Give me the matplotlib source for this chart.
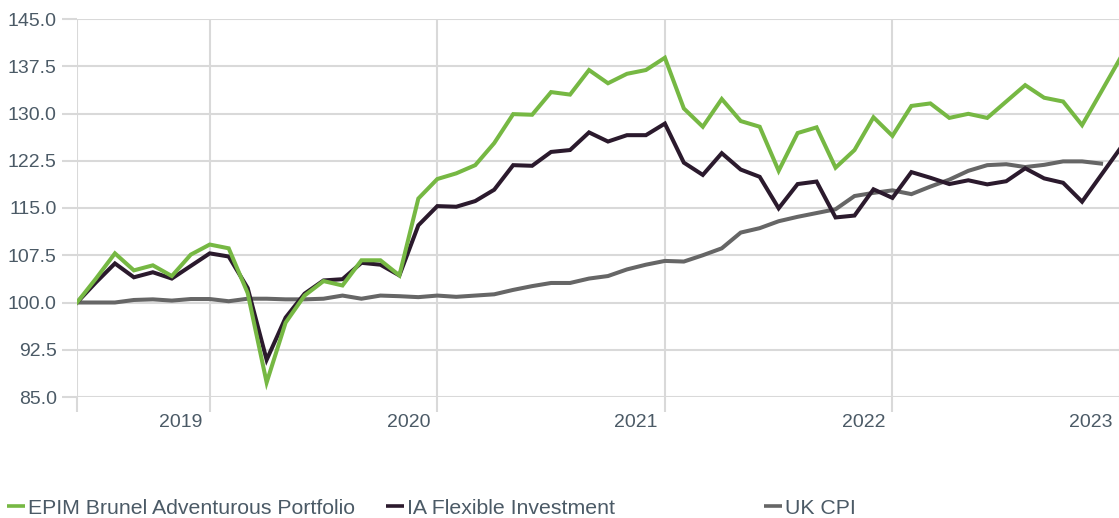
import numpy as np
import matplotlib
matplotlib.use('Agg')
import matplotlib.pyplot as plt
import matplotlib.transforms as mtransforms
from matplotlib.lines import Line2D

plt.rcParams['font.family'] = ['Liberation Sans', 'DejaVu Sans']

# monthly index values, first point = 100
epim = [100.0, 103.8, 107.8, 105.1, 105.9, 104.2, 107.6, 109.2, 108.6, 101.5,
        87.3, 96.8, 101.1, 103.4, 102.7, 106.7, 106.7, 104.3, 116.5, 119.6,
        120.5, 121.8, 125.3, 129.9, 129.8, 133.4, 133.0, 136.9, 134.8, 136.3,
        136.9, 138.85, 130.8, 127.9, 132.3, 128.8, 127.9, 120.9, 126.9, 127.8,
        121.4, 124.2, 129.4, 126.45, 131.2, 131.6, 129.3, 129.95, 129.3, 131.9,
        134.5, 132.5, 131.9, 128.15, 133.4, 138.7]
ia_flex = [100.0, 103.2, 106.2, 104.0, 104.8, 103.8, 105.8, 107.8, 107.3, 102.3,
           90.9, 97.6, 101.4, 103.5, 103.7, 106.3, 106.0, 104.3, 112.25, 115.3,
           115.2, 116.1, 117.9, 121.8, 121.7, 123.9, 124.2, 127.0, 125.55, 126.56,
           126.56, 128.4, 122.2, 120.25, 123.7, 121.1, 119.95, 114.95, 118.8, 119.2,
           113.5, 113.8, 117.97, 116.6, 120.7, 119.8, 118.8, 119.4, 118.75, 119.25,
           121.3, 119.7, 119.0, 116.0, 120.2, 124.4]
uk_cpi = [100.0, 100.0, 100.0, 100.4, 100.5, 100.3, 100.55, 100.55, 100.2, 100.6,
          100.6, 100.5, 100.5, 100.6, 101.1, 100.6, 101.1, 101.0, 100.85, 101.1,
          100.9, 101.1, 101.3, 102.0, 102.6, 103.1, 103.1, 103.8, 104.2, 105.25,
          106.0, 106.6, 106.5, 107.5, 108.6, 111.1, 111.8, 112.9, 113.6, 114.2,
          114.8, 116.9, 117.4, 117.8, 117.2, 118.4, 119.5, 120.9, 121.8, 121.95,
          121.5, 121.85, 122.4, 122.4, 122.05]

year_pos = [0, 7, 19, 31, 43, 55]
year_labels = ['', '2019', '2020', '2021', '2022', '2023']
y_ticks = np.arange(85, 145.1, 7.5)

green = '#76b843'
dark = '#2b1a2d'
grey = '#666666'
text_col = '#4b5a66'
grid_col = '#d9d9d9'

fig = plt.figure(figsize=(11.19, 5.18), dpi=100)
ax = fig.add_axes([77/1119, 1-397/518, 1043/1119, 378/518])

ax.plot(range(len(uk_cpi)), uk_cpi, color=grey, lw=2.9, solid_joinstyle='miter', zorder=3)
ax.plot(range(len(ia_flex)), ia_flex, color=dark, lw=2.9, solid_joinstyle='miter', zorder=4)
ax.plot(range(len(epim)), epim, color=green, lw=2.9, solid_joinstyle='miter', zorder=5)

ax.set_xlim(0, 55)
ax.set_ylim(85, 145)
ax.set_yticks(y_ticks)
ax.set_yticklabels(['%.1f' % v for v in y_ticks])
ax.set_xticks(year_pos)
ax.set_xticklabels(year_labels, ha='right')

ax.grid(True, color=grid_col, lw=1.5)
ax.set_axisbelow(True)
for s in ax.spines.values():
    s.set_visible(False)
ax.tick_params(axis='y', length=11, width=1.5, color=grid_col, pad=3.5,
               labelsize=14, labelcolor=text_col)
ax.tick_params(axis='x', length=11, width=1.5, color=grid_col, pad=1,
               labelsize=14, labelcolor=text_col)
# year labels sit just left of their gridline
shift = mtransforms.ScaledTranslation(-7/100, 0, fig.dpi_scale_trans)
for lab in ax.get_xticklabels():
    lab.set_transform(lab.get_transform() + shift)

names = ['EPIM Brunel Adventurous Portfolio', 'IA Flexible Investment', 'UK CPI']
cols = [green, dark, grey]
xs = [7/1119, 386/1119, 764/1119]
for name, c, x in zip(names, cols, xs):
    h = Line2D([], [], color=c, lw=2.6, solid_capstyle='butt')
    fig.legend([h], [name], loc='center left', bbox_to_anchor=(x, 1-508/518),
               frameon=False, handlelength=0.85, handletextpad=0.15,
               fontsize=15.3, labelcolor=text_col, borderaxespad=0, borderpad=0)

fig.savefig('out.png', dpi=100)
